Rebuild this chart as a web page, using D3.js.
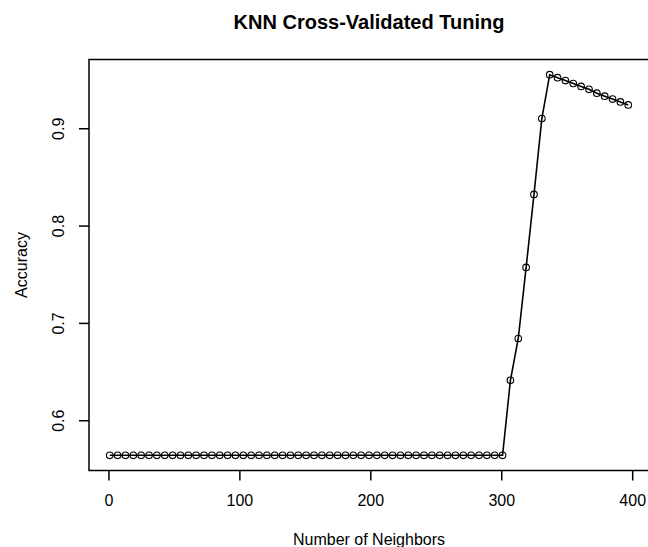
<!DOCTYPE html>
<html>
<head>
<meta charset="utf-8">
<script src="https://cdn.jsdelivr.net/npm/d3@7"></script>
<style>
  html, body { margin: 0; padding: 0; background: #fff; }
  svg { display: block; }
  text { font-family: "Liberation Sans", Arial, Helvetica, sans-serif; fill: #000; }
</style>
</head>
<body>
<svg id="chart" width="648" height="547"></svg>
<script>
// ---- data ----
const neighbors = d3.range(1, 398, 6); // 1, 7, 13, ..., 397  (67 values)
const flatAccuracy = 0.564;            // k = 1 .. 301
const risingAccuracy = [0.641, 0.684, 0.757, 0.832, 0.910];   // k = 307 .. 331
const peakAccuracy = [0.955, 0.952, 0.949, 0.946, 0.943, 0.940, 0.936, 0.933, 0.930, 0.927, 0.924]; // k = 337 .. 397
const xTicks = [0, 100, 200, 300, 400];
const yTicks = [0.6, 0.7, 0.8, 0.9];
const titleText = "KNN Cross-Validated Tuning";
const xLabel = "Number of Neighbors";
const yLabel = "Accuracy";

const accuracy = [];
for (let i = 0; i < 51; i++) accuracy.push(flatAccuracy);
risingAccuracy.forEach(v => accuracy.push(v));
peakAccuracy.forEach(v => accuracy.push(v));
const data = neighbors.map((k, i) => ({k, acc: accuracy[i]}));

// ---- layout ----
const svg = d3.select("#chart");
const mLeft = 89, mRight = 649, mTop = 59.5, mBottom = 470.5;

// R-style 4% range extension
const xExt = d3.extent(data, d => d.k);
const yExt = d3.extent(data, d => d.acc);
const xPad = (xExt[1] - xExt[0]) * 0.04;
const yPad = (yExt[1] - yExt[0]) * 0.04;

const x = d3.scaleLinear().domain([xExt[0] - xPad, xExt[1] + xPad]).range([mLeft, mRight]);
const y = d3.scaleLinear().domain([yExt[0] - yPad, yExt[1] + yPad]).range([mBottom, mTop]);

// box
svg.append("rect")
  .attr("x", mLeft).attr("y", mTop)
  .attr("width", mRight - mLeft).attr("height", mBottom - mTop)
  .attr("fill", "none").attr("stroke", "#000").attr("stroke-width", 1.5);

// x axis
const xAxis = d3.axisBottom(x).tickValues(xTicks).tickSize(10).tickSizeOuter(0).tickPadding(14)
  .tickFormat(d3.format("d"));
const gx = svg.append("g").attr("transform", `translate(0,${mBottom})`).call(xAxis);
gx.select(".domain").remove();
gx.selectAll(".tick line").attr("stroke", "#000").attr("stroke-width", 1.5);
gx.selectAll(".tick text").style("font-size", "16px").attr("fill", "#000");

// y axis
const yAxis = d3.axisLeft(y).tickValues(yTicks).tickSize(10).tickSizeOuter(0).tickPadding(0)
  .tickFormat(d3.format(".1f"));
const gy = svg.append("g").attr("transform", `translate(${mLeft},0)`).call(yAxis);
gy.select(".domain").remove();
gy.selectAll(".tick line").attr("stroke", "#000").attr("stroke-width", 1.5);
gy.selectAll(".tick text")
  .style("font-size", "16px").attr("fill", "#000")
  .attr("x", 0).attr("dy", null)
  .attr("text-anchor", "middle")
  .attr("transform", "translate(-31,0) rotate(-90)")
  .attr("dominant-baseline", "central");

// line + points
const line = d3.line().x(d => x(d.k)).y(d => y(d.acc));
svg.append("path").datum(data)
  .attr("d", line).attr("fill", "none").attr("stroke", "#000").attr("stroke-width", 1.6);

svg.append("g").selectAll("circle").data(data).join("circle")
  .attr("cx", d => x(d.k)).attr("cy", d => y(d.acc)).attr("r", 3.3)
  .attr("fill", "none").attr("stroke", "#000").attr("stroke-width", 1.1);

// title and labels
const cx = (mLeft + mRight) / 2;
svg.append("text").attr("x", cx).attr("y", 29)
  .attr("text-anchor", "middle").style("font-size", "20px").style("font-weight", "bold")
  .text(titleText);

svg.append("text").attr("x", cx).attr("y", 545)
  .attr("text-anchor", "middle").style("font-size", "16px")
  .text(xLabel);

svg.append("text")
  .attr("transform", `translate(27,${(mTop + mBottom) / 2}) rotate(-90)`)
  .attr("text-anchor", "middle").style("font-size", "16px")
  .text(yLabel);
</script>
</body>
</html>
